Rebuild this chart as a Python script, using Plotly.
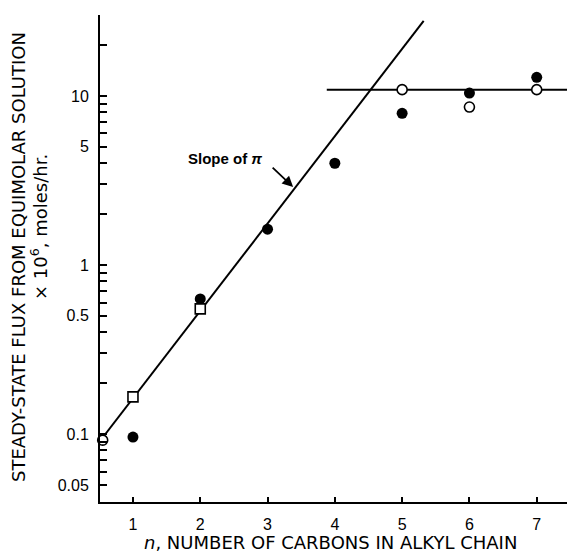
import plotly.graph_objects as go
import numpy as np

# Data
filled_n = [1, 2, 3, 4, 5, 6, 7]
filled_flux = [0.096, 0.63, 1.63, 4.0, 7.9, 10.4, 12.9]
open_n = [0.55, 5, 6, 7]
open_flux = [0.092, 10.9, 8.6, 10.9]
square_n = [1, 2]
square_flux = [0.166, 0.55]
slope_line_n = [0.52, 5.32]
slope_line_flux = [0.092, 27.8]
plateau_n = [3.88, 7.6]
plateau_flux = [10.9, 10.9]

y_tick_vals = [0.05, 0.06, 0.07, 0.08, 0.09, 0.1, 0.2, 0.3, 0.4, 0.5, 0.6, 0.7, 0.8, 0.9,
               1, 2, 3, 4, 5, 6, 7, 8, 9, 10, 20, 30]
y_tick_text = ["0.05", "", "", "", "", "0.1", "", "", "", "0.5", "", "", "", "",
               "1", "", "", "", "5", "", "", "", "", "10", "", ""]
x_tick_vals = [1, 2, 3, 4, 5, 6, 7]
x_tick_text = ["1", "2", "3", "4", "5", "6", "7"]

num_font = "Liberation Sans, Arial, Helvetica, sans-serif"
title_font = "DejaVu Sans, Verdana, sans-serif"

fig = go.Figure()
fig.add_trace(go.Scatter(x=slope_line_n, y=slope_line_flux, mode="lines",
                         line=dict(color="black", width=2), showlegend=False, cliponaxis=False))
fig.add_trace(go.Scatter(x=plateau_n, y=plateau_flux, mode="lines",
                         line=dict(color="black", width=2), showlegend=False))
fig.add_trace(go.Scatter(x=filled_n, y=filled_flux, mode="markers",
                         marker=dict(symbol="circle", size=11, color="black"), showlegend=False))
fig.add_trace(go.Scatter(x=open_n, y=open_flux, mode="markers",
                         marker=dict(symbol="circle", size=10, color="white",
                                     line=dict(color="black", width=1.6)),
                         showlegend=False, cliponaxis=False))
fig.add_trace(go.Scatter(x=square_n, y=square_flux, mode="markers",
                         marker=dict(symbol="square", size=10, color="white",
                                     line=dict(color="black", width=1.6)),
                         showlegend=False))

fig.update_layout(
    width=567, height=554,
    margin=dict(l=100, r=0, t=15, b=52),
    paper_bgcolor="white", plot_bgcolor="white",
    xaxis=dict(range=[0.51, 7.45], tickvals=x_tick_vals, ticktext=x_tick_text,
               ticks="inside", ticklen=5, tickwidth=1.5, tickcolor="black",
               showline=True, linecolor="black", linewidth=2, showgrid=False, zeroline=False,
               tickfont=dict(family=num_font, size=16, color="black"),
               ticklabelstandoff=7),
    yaxis=dict(type="log", range=[-1.402, 1.479], tickvals=y_tick_vals, ticktext=y_tick_text,
               ticks="inside", ticklen=7, tickwidth=1.5, tickcolor="black",
               showline=True, linecolor="black", linewidth=2, showgrid=False, zeroline=False,
               tickfont=dict(family=num_font, size=16, color="black"),
               ticklabelstandoff=6),
)

# Axis titles
fig.add_annotation(text="<i>n</i>, NUMBER OF CARBONS IN ALKYL CHAIN", xref="paper", yref="paper",
                   x=(330 - 100) / 467, y=-(542 - 502) / 487, xanchor="center", yanchor="middle",
                   showarrow=False, font=dict(family=title_font, size=18, color="black"))
fig.add_annotation(text="STEADY-STATE FLUX FROM EQUIMOLAR SOLUTION", xref="paper", yref="paper",
                   x=-(100 - 18) / 467, y=(502 - 257) / 487, xanchor="center", yanchor="middle",
                   textangle=-90, showarrow=False,
                   font=dict(family=title_font, size=18, color="black"))
fig.add_annotation(text="× 10<sup>6</sup>, moles/hr.", xref="paper", yref="paper",
                   x=-(100 - 39) / 467, y=(502 - 227) / 487, xanchor="center", yanchor="middle",
                   textangle=-90, showarrow=False,
                   font=dict(family=title_font, size=18, color="black"))

# Slope annotation
fig.add_annotation(text="<b>Slope of <i>π</i></b>", x=2.37, y=0.633, xref="x", yref="y",
                   showarrow=False, xanchor="center", yanchor="middle",
                   font=dict(family=num_font, size=15, color="black"))
fig.add_annotation(text="", x=3.38, y=np.log10(2.89), xref="x", yref="y",
                   ax=-22, ay=-21, showarrow=True, arrowhead=2, arrowsize=1.2,
                   arrowwidth=1.8, arrowcolor="black")

fig.write_html("out.html")
